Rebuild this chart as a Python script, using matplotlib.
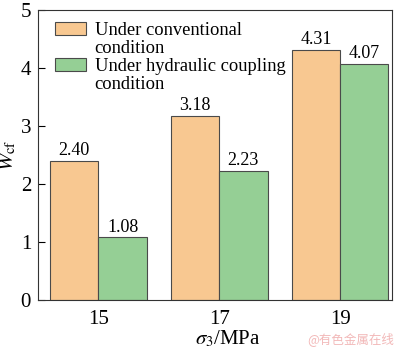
import numpy as np
import matplotlib
matplotlib.use("Agg")
import matplotlib.pyplot as plt

# data
sigma3 = ["15", "17", "19"]
conventional = [2.40, 3.18, 4.31]
hydraulic = [1.08, 2.23, 4.07]
series_labels = ["Under conventional\ncondition", "Under hydraulic coupling\ncondition"]

plt.rcParams['font.family'] = ['Liberation Serif', 'DejaVu Serif']
plt.rcParams['mathtext.fontset'] = 'stix'

fig = plt.figure(figsize=(4, 3.5), dpi=100)
ax = fig.add_axes([0.095, 0.143, 0.885, 0.828])

x = np.arange(len(sigma3))
w = 0.4
b1 = ax.bar(x - w / 2, conventional, w, color='#F8C891', edgecolor='#4a4a4a', linewidth=0.8,
            label=series_labels[0])
b2 = ax.bar(x + w / 2, hydraulic, w, color='#95CF95', edgecolor='#4a4a4a', linewidth=0.8,
            label=series_labels[1])

for bars, vals in [(b1, conventional), (b2, hydraulic)]:
    for r, v in zip(bars, vals):
        ax.text(r.get_x() + r.get_width() / 2, v + 0.03, f"{v:.2f}",
                ha='center', va='bottom', fontsize=13)

ax.set_xlim(-0.5, 2.43)
ax.set_ylim(0, 5)
ax.set_xticks(x)
ax.set_xticklabels(sigma3)
ax.set_yticks([0, 1, 2, 3, 4, 5])
ax.tick_params(axis='y', direction='in', length=5, labelsize=15, width=0.8, pad=5)
ax.tick_params(axis='x', length=0, labelsize=15, pad=7)
for s in ax.spines.values():
    s.set_linewidth(0.8)
    s.set_color('#333333')

ax.set_ylabel(r'$W_{\mathrm{cf}}$', fontsize=15)
ax.yaxis.set_label_coords(-0.055, 0.5)
ax.set_xlabel(r'$\sigma_3$/MPa', fontsize=15)
ax.xaxis.set_label_coords(0.537, -0.1)

leg = ax.legend(loc='upper left', frameon=False, fontsize=13.3, handlelength=1.7,
                handleheight=0.7, handletextpad=0.45, labelspacing=0.05,
                borderaxespad=0.0, borderpad=0.0, bbox_to_anchor=(0.048, 0.958))
for t in leg.get_texts():
    t.set_linespacing(1.05)
leg_box = leg._legend_handle_box
for col in leg_box.get_children():
    for item in col.get_children():
        item.align = 'top'

fig.text(0.985, 0.012, '@有色金属在线', ha='right', va='bottom', fontsize=9,
         color='#F2B8B8', family=['Noto Sans CJK SC', 'DejaVu Sans'])

fig.savefig('out.png', dpi=100)
